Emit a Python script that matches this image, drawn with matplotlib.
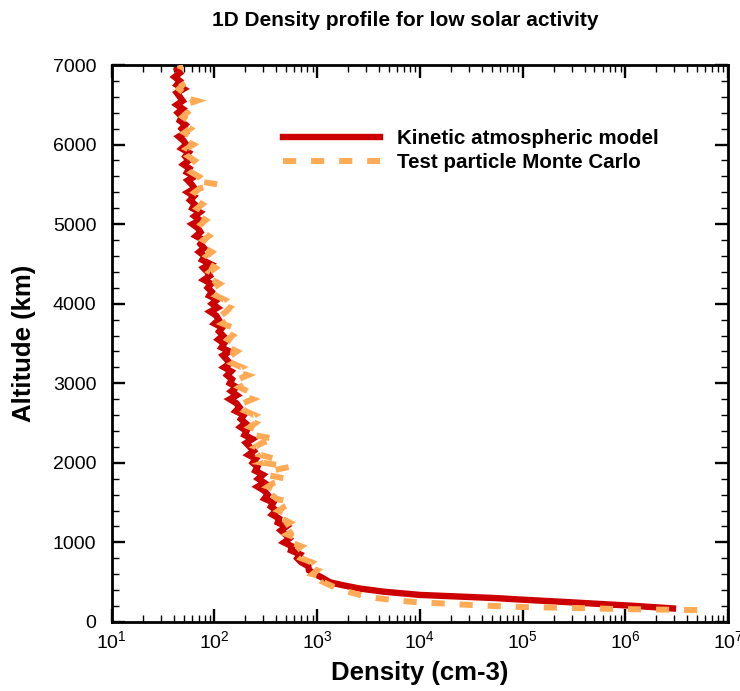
import matplotlib
matplotlib.use("Agg")
import matplotlib.pyplot as plt
from matplotlib.ticker import LogLocator, MultipleLocator, NullFormatter

plt.rcParams['font.family'] = ['Liberation Sans', 'DejaVu Sans']
plt.rcParams['mathtext.fontset'] = 'custom'
plt.rcParams['mathtext.rm'] = 'Liberation Sans'
plt.rcParams['mathtext.it'] = 'Liberation Sans'
plt.rcParams['mathtext.bf'] = 'Liberation Sans:bold'

title = "1D Density profile for low solar activity"
xlabel = "Density (cm-3)"
ylabel = "Altitude (km)"
label_kinetic = "Kinetic atmospheric model"
label_mc = "Test particle Monte Carlo"

# Kinetic model: altitude (km) and density (cm-3)
kin_alt = [170, 180, 200, 220, 250, 280, 300, 340, 380, 420, 460] + list(range(500, 7001, 50))
kin_dens = [2.9e6, 2.2e6, 1.3e6, 7.0e5, 2.7e5, 1.0e5, 5.5e4, 1.0e4, 4.5e3, 2.6e3, 1.8e3,
    1320, 1140, 960, 830, 820, 700, 640, 680, 555, 570,
    475, 535, 490, 443, 500, 413, 425, 365, 400, 355,
    374, 307, 329, 305, 263, 305, 267, 296, 250, 262,
    236, 253, 214, 241, 221, 203, 234, 196, 205, 179,
    200, 181, 193, 161, 175, 163, 141, 165, 146, 164,
    141, 148, 133, 145, 124, 141, 131, 121, 140, 117,
    124, 109, 121, 111, 119, 100, 110, 104, 91, 107,
    95, 106, 89, 94, 86, 93, 79, 90, 85, 78,
    91, 76, 80, 71, 79, 73, 78, 66, 73, 69,
    61, 72, 64, 72, 61, 64, 58, 63, 55, 64,
    60, 55, 64, 54, 57, 50, 56, 52, 56, 48,
    53, 50, 45, 52, 48, 52, 46, 48, 44, 49,
    43, 49, 46, 43, 50, 43, 46, 41, 46, 43,
    45]

# Test particle Monte Carlo: altitude (km) and density (cm-3)
mc_alt = [150, 153, 158, 165, 175, 188, 200, 215, 230, 250, 275, 300, 330, 365, 400, 450] + list(range(500, 7001, 50))
mc_dens = [5.0e6, 3.0e6, 1.5e6, 7.0e5, 3.5e5, 1.0e5, 5.5e4, 3.0e4, 1.8e4, 9.0e3, 5.5e3, 3.8e3, 2.8e3, 2.2e3, 1.8e3, 1.4e3,
    1150, 1250, 900, 1000, 780, 880, 700, 760, 620, 700,
    560, 640, 510, 600, 470, 540, 450, 520, 420, 480,
    560, 400, 360, 420, 330, 380, 500, 320, 360, 540,
    300, 390, 280, 310, 250, 290, 390, 240, 270, 220,
    250, 210, 246, 200, 230, 190, 235, 185, 210, 175,
    205, 170, 210, 160, 185, 150, 175, 145, 165, 138,
    160, 135, 150, 128, 150, 120, 140, 115, 130, 141,
    110, 125, 104, 118, 98, 112, 95, 106, 90, 102,
    88, 98, 84, 94, 80, 92, 78, 88, 76, 84,
    74, 82, 71, 80, 68, 76, 66, 74, 64, 72,
    107, 62, 70, 60, 68, 58, 64, 56, 66, 54,
    62, 52, 60, 51, 58, 50, 56, 49, 54, 48,
    52, 67, 48, 50, 45, 49, 46, 48, 45, 47,
    46]

fig = plt.figure(figsize=(7.4, 6.91), dpi=100)
ax = fig.add_axes([0.151, 0.0999, 0.833, 0.806])

ax.plot(kin_dens, kin_alt, color='#cc0000', lw=4.6, solid_joinstyle='miter',
        label=label_kinetic, zorder=2)
ax.plot(mc_dens, mc_alt, color='#ffaa55', lw=4.3, dashes=(2.2, 2.5),
        solid_joinstyle='miter', dash_joinstyle='miter',
        label=label_mc, zorder=3)

ax.set_xscale('log')
ax.set_xlim(10, 1e7)
ax.set_ylim(0, 7000)
ax.yaxis.set_major_locator(MultipleLocator(1000))
ax.yaxis.set_minor_locator(MultipleLocator(200))
ax.xaxis.set_major_locator(LogLocator(base=10, numticks=10))
ax.xaxis.set_minor_locator(LogLocator(base=10, subs=range(2, 10), numticks=100))
ax.xaxis.set_minor_formatter(NullFormatter())

ax.tick_params(which='both', direction='in', top=True, right=True, labelsize=14)
ax.tick_params(axis='y', which='both', pad=11)
ax.tick_params(axis='x', which='both', pad=6)
ax.tick_params(which='major', length=9.5, width=1.7)
ax.tick_params(which='minor', length=5, width=1.0)
for s in ax.spines.values():
    s.set_linewidth(2.0)

ax.set_xlabel(xlabel, fontsize=18.5, fontweight='bold', labelpad=6)
ax.set_ylabel(ylabel, fontsize=18.5, fontweight='bold', labelpad=12)
fig.text(0.547, 0.971, title, ha='center', va='center', fontsize=15, fontweight='bold')

ax.legend(loc='upper left', bbox_to_anchor=(0.261, 0.903), frameon=False,
          handlelength=4.7, handletextpad=0.83, labelspacing=0.25,
          borderpad=0, prop={'weight': 'bold', 'size': 14.8})

fig.savefig('out.png', dpi=100)
